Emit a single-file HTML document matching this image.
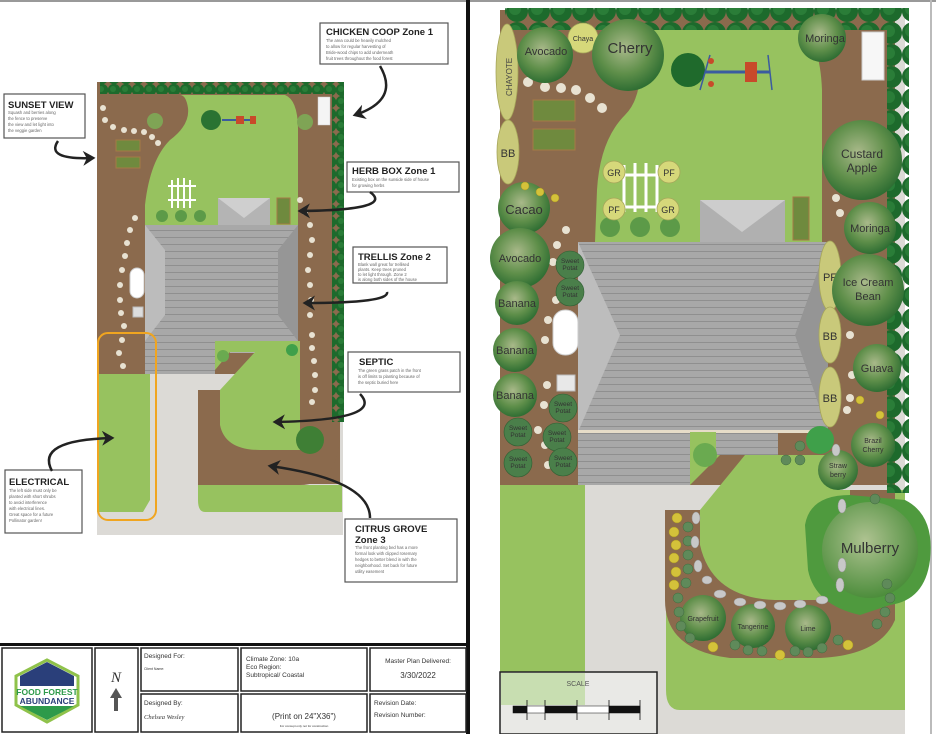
<!DOCTYPE html>
<html><head><meta charset="utf-8"><style>
html,body{margin:0;padding:0;background:#fff;}
svg{display:block;font-family:"Liberation Sans",sans-serif;}
</style></head><body>
<svg width="936" height="734" viewBox="0 0 936 734" xmlns="http://www.w3.org/2000/svg">
<defs>
<pattern id="hedgeH" width="22" height="22" patternUnits="userSpaceOnUse"><circle cx="11" cy="11" r="11" fill="#1d6a2c"/><circle cx="9" cy="9" r="6" fill="#2a7d38"/></pattern>
<pattern id="hedgeS" width="12" height="12" patternUnits="userSpaceOnUse"><circle cx="6" cy="6" r="6.2" fill="#1d6a2c"/><circle cx="5" cy="5" r="3" fill="#2a7d38"/></pattern>
<pattern id="roof" width="10" height="7" patternUnits="userSpaceOnUse"><rect width="10" height="7" fill="#a8a8a8"/><line x1="0" y1="6.5" x2="10" y2="6.5" stroke="#8f8f8f" stroke-width="1"/></pattern>
<radialGradient id="tree" cx="45%" cy="40%" r="60%"><stop offset="0" stop-color="#a9b98a"/><stop offset="0.6" stop-color="#5f8f4a"/><stop offset="1" stop-color="#2f6e33"/></radialGradient>
<radialGradient id="treeL" cx="45%" cy="40%" r="60%"><stop offset="0" stop-color="#b9c79a"/><stop offset="1" stop-color="#4d8c3c"/></radialGradient>
<marker id="ah" markerWidth="6" markerHeight="6" refX="4" refY="3" orient="auto"><path d="M0,0 L5,3 L0,6 L1.5,3Z" fill="#222"/></marker>
</defs>

<!-- frame -->
<rect x="0" y="0" width="936" height="2" fill="#999"/>
<rect x="466" y="0" width="4" height="734" fill="#111"/>
<rect x="930" y="0" width="2" height="734" fill="#bbb"/>

<!-- ============ LEFT PLAN ============ -->
<rect x="97" y="82" width="246" height="453" fill="#dcdad6"/>
<rect x="97" y="82" width="246" height="292" fill="#8b6a4d"/>
<rect x="300" y="374" width="40" height="110" fill="#8b6a4d"/>
<!-- upper lawn -->
<path d="M180,95 L285,95 Q298,100 298,130 L298,225 L145,225 L145,205 Q150,160 170,140 Q190,125 188,108 Q186,95 180,95Z" fill="#97c25f"/>
<!-- house -->
<rect x="145" y="225" width="153" height="116" fill="url(#roof)"/>
<path d="M145,225 L165,250 L165,315 L145,341Z" fill="#bcbcbc"/>
<path d="M298,225 L278,250 L278,315 L298,341Z" fill="#969696"/>
<rect x="218" y="198" width="52" height="27" fill="#b4b4b4"/>
<path d="M218,198 L244,218 L270,198" fill="#cfcfcf"/>
<rect x="145" y="341" width="70" height="33" fill="url(#roof)"/>
<rect x="230" y="341" width="35" height="12" fill="#b0b0b0"/>
<!-- lawns -->
<path d="M215,341 L300,341 L300,450 L220,450 L220,390 L255,352 L230,352 L215,370Z" fill="#97c25f"/>
<path d="M198,390 L220,390 L220,425 Q225,450 260,450 L300,450 L300,374 L340,374 L340,440 Q335,485 300,485 L198,485Z" fill="#8b6a4d"/>
<path d="M198,485 L342,485 L342,512 L205,512 Q198,512 198,500Z" fill="#97c25f"/>
<path d="M97,374 L150,374 L150,500 L143,512 L97,512Z" fill="#97c25f"/>
<rect x="97" y="512" width="245" height="23" fill="#dcdad6"/>
<!-- hedges -->
<rect x="100" y="82" width="242" height="12" fill="url(#hedgeS)"/>
<rect x="332" y="82" width="12" height="340" fill="url(#hedgeS)"/>
<!-- stepping stones -->
<g fill="#e8e2d2">
<circle cx="103" cy="108" r="3"/><circle cx="105" cy="120" r="3"/><circle cx="113" cy="127" r="3"/><circle cx="124" cy="130" r="3"/><circle cx="134" cy="131" r="3"/><circle cx="144" cy="132" r="3"/><circle cx="152" cy="137" r="3"/><circle cx="158" cy="143" r="3"/>
<circle cx="135" cy="218" r="3"/><circle cx="130" cy="230" r="3"/><circle cx="127" cy="243" r="3"/><circle cx="125" cy="256" r="3"/><circle cx="122" cy="270" r="3"/><circle cx="120" cy="285" r="3"/><circle cx="120" cy="300" r="3"/><circle cx="121" cy="313" r="3"/><circle cx="124" cy="326" r="3"/><circle cx="122" cy="340" r="3"/><circle cx="119" cy="353" r="3"/><circle cx="123" cy="366" r="3"/>
<circle cx="300" cy="200" r="3"/><circle cx="305" cy="212" r="3"/><circle cx="310" cy="225" r="3"/><circle cx="312" cy="240" r="3"/><circle cx="310" cy="255" r="3"/><circle cx="308" cy="270" r="3"/><circle cx="310" cy="285" r="3"/><circle cx="311" cy="300" r="3"/><circle cx="310" cy="315" r="3"/><circle cx="312" cy="335" r="3"/><circle cx="312" cy="348" r="3"/><circle cx="314" cy="361" r="3"/><circle cx="315" cy="375" r="3"/><circle cx="315" cy="390" r="3"/><circle cx="312" cy="402" r="3"/>
</g>
<!-- features -->
<circle cx="211" cy="120" r="10" fill="#2a7332"/>
<line x1="222" y1="120" x2="255" y2="120" stroke="#3b5ba0" stroke-width="2"/>
<rect x="236" y="116" width="8" height="8" fill="#c84a2a"/><rect x="250" y="116" width="6" height="8" fill="#c84a2a"/>
<circle cx="155" cy="121" r="8" fill="#7fa455"/><circle cx="305" cy="122" r="8" fill="#7fa455"/>
<rect x="318" y="97" width="12" height="28" fill="#f4f4f4" stroke="#ccc" stroke-width="0.5"/>
<rect x="116" y="140" width="24" height="11" fill="#6f8a3e" stroke="#a57a45"/>
<rect x="116" y="157" width="24" height="11" fill="#6f8a3e" stroke="#a57a45"/>
<rect x="277" y="198" width="13" height="26" fill="#6f8a3e" stroke="#a57a45"/>
<g stroke="#fff" stroke-width="2"><line x1="172" y1="180" x2="172" y2="208"/><line x1="178" y1="178" x2="178" y2="208"/><line x1="184" y1="178" x2="184" y2="208"/><line x1="190" y1="180" x2="190" y2="208"/><line x1="168" y1="186" x2="196" y2="186"/><line x1="168" y1="200" x2="196" y2="200"/></g>
<circle cx="162" cy="216" r="6" fill="#5c9a48"/><circle cx="181" cy="216" r="6" fill="#5c9a48"/><circle cx="200" cy="216" r="6" fill="#5c9a48"/>
<rect x="130" y="268" width="14" height="30" rx="7" fill="#fff" stroke="#ccc"/>
<rect x="133" y="307" width="10" height="10" fill="#ddd" stroke="#bbb"/>
<circle cx="223" cy="356" r="6" fill="#6aaa50"/><circle cx="292" cy="350" r="6" fill="#3fa04a"/>
<circle cx="310" cy="440" r="14" fill="#3f7f35"/>
<rect x="98" y="333" width="58" height="187" rx="10" fill="none" stroke="#f0a520" stroke-width="2"/>

<!-- callouts -->
<g stroke="#555" stroke-width="1.2" fill="#fff">
<rect x="320" y="23" width="128" height="41"/>
<rect x="4" y="94" width="81" height="44"/>
<rect x="347" y="162" width="112" height="30"/>
<rect x="353" y="247" width="94" height="36"/>
<rect x="348" y="352" width="112" height="40"/>
<rect x="5" y="470" width="77" height="63"/>
<rect x="345" y="519" width="112" height="63"/>
</g>
<g fill="#222" font-weight="bold" font-size="9.5">
<text x="326" y="35">CHICKEN COOP Zone 1</text>
<text x="8" y="108">SUNSET VIEW</text>
<text x="352" y="174">HERB BOX Zone 1</text>
<text x="358" y="260">TRELLIS Zone 2</text>
<text x="359" y="365">SEPTIC</text>
<text x="9" y="485">ELECTRICAL</text>
<text x="355" y="532">CITRUS GROVE</text>
<text x="355" y="543">Zone 3</text>
</g>
<g fill="#666" font-size="4.2">
<text x="326" y="42">The area could be heavily mulched</text><text x="326" y="48">to allow for regular harvesting of</text><text x="326" y="54">Bride-wood chips to add underneath</text><text x="326" y="60">fruit trees throughout the food forest</text>
<text x="8" y="114">Squash and berries along</text><text x="8" y="120">the fence to preserve</text><text x="8" y="126">the view and let light into</text><text x="8" y="132">the veggie garden</text>
<text x="352" y="181">Existing box on the sunside side of house</text><text x="352" y="187">for growing herbs</text>
<text x="358" y="266">Blank wall great for trellised</text><text x="358" y="271">plants. Keep trees pruned</text><text x="358" y="276">to let light through. Zone 2</text><text x="358" y="281">is along both sides of the house</text>
<text x="358" y="372">The green grass patch in the front</text><text x="358" y="378">is off limits to planting because of</text><text x="358" y="384">the septic buried here</text>
<text x="9" y="492">The left side must only be</text><text x="9" y="498">planted with short shrubs</text><text x="9" y="504">to avoid interference</text><text x="9" y="510">with electrical lines.</text><text x="9" y="516">Great space for a future</text><text x="9" y="522">Pollinator garden!</text>
<text x="355" y="549">The front planting bed has a more</text><text x="355" y="555">formal look with clipped rosemary</text><text x="355" y="561">hedges to better blend in with the</text><text x="355" y="567">neighborhood. Set back for future</text><text x="355" y="573">utility easement</text>
</g>
<!-- arrows -->
<g fill="none" stroke="#222" stroke-width="2.5" marker-end="url(#ah)">
<path d="M380,66 Q400,100 355,115"/>
<path d="M58,141 Q45,160 93,158"/>
<path d="M370,192 Q395,210 300,211"/>
<path d="M387,292 Q390,303 305,303"/>
<path d="M360,394 Q385,420 275,422"/>
<path d="M52,471 Q35,440 112,438"/>
<path d="M370,518 Q370,480 270,466"/>
</g>

<!-- title block -->
<rect x="0" y="643" width="468" height="3" fill="#111"/>
<g stroke="#222" stroke-width="1.5" fill="none">
<rect x="2" y="648" width="90" height="84"/>
<rect x="95" y="648" width="43" height="84"/>
<rect x="141" y="648" width="97" height="43"/>
<rect x="141" y="694" width="97" height="38"/>
<rect x="241" y="648" width="126" height="43"/>
<rect x="241" y="694" width="126" height="38"/>
<rect x="370" y="648" width="96" height="43"/>
<rect x="370" y="694" width="96" height="38"/>
</g>
<path d="M47,660 L78,676 L78,705 L47,722 L16,705 L16,676Z" fill="#fff" stroke="#8fc24a" stroke-width="3"/>
<path d="M20,676 L47,662 L74,676 L74,686 L20,686Z" fill="#2a3f7a"/>
<path d="M20,706 L74,706 L47,720Z" fill="#2e9a4a"/>
<text x="47" y="695" text-anchor="middle" font-size="8.5" font-weight="bold" fill="#2e9a4a">FOOD FOREST</text>
<text x="47" y="704" text-anchor="middle" font-size="8.5" font-weight="bold" fill="#2a3f7a">ABUNDANCE</text>
<text x="116" y="682" text-anchor="middle" font-size="15" font-style="italic" font-family="Liberation Serif,serif" fill="#333">N</text>
<path d="M116,688 L110,698 L114,698 L114,711 L118,711 L118,698 L122,698Z" fill="#555"/>
<g fill="#333" font-size="6.5">
<text x="144" y="658">Designed For:</text>
<text x="144" y="670" font-size="3.5">Client Name:</text>
<text x="144" y="705">Designed By:</text>
<text x="144" y="719" font-style="italic" font-family="Liberation Serif,serif">Chelsea Wesley</text>
<text x="246" y="661">Climate Zone: 10a</text>
<text x="246" y="669">Eco Region:</text>
<text x="246" y="677">Subtropical/ Coastal</text>
<text x="304" y="719" text-anchor="middle" font-size="8">(Print on 24"X36")</text>
<text x="304" y="727" text-anchor="middle" font-size="3">For concept only not for construction</text>
<text x="418" y="663" text-anchor="middle">Master Plan Delivered:</text>
<text x="418" y="678" text-anchor="middle" font-size="8">3/30/2022</text>
<text x="374" y="705">Revision Date:</text>
<text x="374" y="717">Revision Number:</text>
</g>

<!-- ============ RIGHT PLAN ============ -->
<rect x="500" y="10" width="405" height="724" fill="#dcdad6"/>
<rect x="500" y="10" width="395" height="475" fill="#8b6a4d"/>
<!-- upper lawn -->
<path d="M640,30 L800,30 Q820,40 822,90 L822,242 L595,242 L597,190 Q600,140 625,115 Q640,100 640,70 Q640,45 632,30Z" fill="#97c25f"/>
<!-- house -->
<rect x="578" y="242" width="250" height="190" fill="url(#roof)"/>
<path d="M578,242 L620,335 L578,432Z" fill="#bdbdbd"/>
<path d="M828,242 L795,335 L828,432Z" fill="#959595"/>
<rect x="700" y="200" width="85" height="42" fill="#b0b0b0"/>
<path d="M700,200 L742,232 L785,200Z" fill="#cdcdcd"/>
<rect x="578" y="432" width="112" height="53" fill="url(#roof)"/>
<rect x="716" y="432" width="62" height="23" fill="url(#roof)"/>
<rect x="578" y="430" width="250" height="3" fill="#e6dcc8"/>
<!-- lower lawns -->
<path d="M500,485 L585,485 L585,734 L500,734Z" fill="#97c25f"/>
<path d="M690,432 L716,432 L716,455 L840,455 L840,490 L905,490 L905,710 L680,710 Q666,710 666,690 L666,510 L700,510 L745,455 L720,455 L690,485Z" fill="#97c25f"/>
<!-- U bed -->
<path d="M665,510 L700,510 L700,545 Q712,598 775,600 L850,600 L850,490 L895,490 L895,620 Q880,655 820,658 L730,658 Q665,650 665,600Z" fill="#8b6a4d"/>
<!-- hedges -->
<rect x="505" y="8" width="400" height="22" fill="url(#hedgeH)"/>
<rect x="887" y="8" width="22" height="485" fill="url(#hedgeH)"/>
<!-- stones -->
<g fill="#e8e2d2">
<circle cx="528" cy="82" r="5"/><circle cx="545" cy="87" r="5"/><circle cx="561" cy="88" r="5"/><circle cx="576" cy="90" r="5"/><circle cx="590" cy="98" r="5"/><circle cx="602" cy="108" r="5"/>
<circle cx="566" cy="230" r="4"/><circle cx="557" cy="245" r="4"/><circle cx="553" cy="262" r="4"/><circle cx="556" cy="300" r="4"/><circle cx="548" cy="320" r="4"/><circle cx="545" cy="340" r="4"/><circle cx="547" cy="385" r="4"/><circle cx="544" cy="405" r="4"/><circle cx="538" cy="430" r="4"/><circle cx="545" cy="445" r="4"/><circle cx="548" cy="465" r="4"/>
<circle cx="836" cy="198" r="4"/><circle cx="840" cy="213" r="4"/><circle cx="846" cy="310" r="4"/><circle cx="850" cy="335" r="4"/><circle cx="852" cy="375" r="4"/><circle cx="850" cy="398" r="4"/><circle cx="847" cy="410" r="4"/>
</g>
<!-- veggie beds etc -->
<rect x="533" y="100" width="42" height="21" fill="#6f8a3e" stroke="#a57a45"/>
<rect x="533" y="129" width="42" height="21" fill="#6f8a3e" stroke="#a57a45"/>
<rect x="793" y="197" width="16" height="43" fill="#6f8a3e" stroke="#a57a45"/>
<rect x="862" y="32" width="22" height="48" fill="#f7f7f7" stroke="#ccc"/>
<circle cx="688" cy="70" r="17" fill="#1f6a2c"/>
<line x1="705" y1="72" x2="770" y2="72" stroke="#3b5ba0" stroke-width="3"/>
<line x1="710" y1="55" x2="700" y2="90" stroke="#3b5ba0" stroke-width="1.5"/><line x1="768" y1="55" x2="772" y2="90" stroke="#3b5ba0" stroke-width="1.5"/>
<circle cx="711" cy="61" r="3" fill="#c84a2a"/><circle cx="711" cy="84" r="3" fill="#c84a2a"/>
<rect x="745" y="62" width="12" height="20" fill="#c84a2a"/>
<g stroke="#fff" stroke-width="3"><line x1="624" y1="165" x2="624" y2="212"/><line x1="635" y1="163" x2="635" y2="212"/><line x1="646" y1="163" x2="646" y2="212"/><line x1="657" y1="165" x2="657" y2="212"/><line x1="620" y1="175" x2="661" y2="175"/><line x1="620" y1="207" x2="661" y2="207"/></g>
<circle cx="610" cy="227" r="10" fill="#5c9a48"/><circle cx="640" cy="227" r="10" fill="#5c9a48"/><circle cx="670" cy="227" r="10" fill="#5c9a48"/>
<rect x="553" y="310" width="25" height="45" rx="12" fill="#fff" stroke="#ccc"/>
<rect x="557" y="375" width="18" height="16" fill="#e8e8e8" stroke="#bbb"/>
<circle cx="705" cy="455" r="12" fill="#6aaa50"/>
<circle cx="820" cy="440" r="14" fill="#3fa04a"/>

<!-- ellipses -->
<g fill="#c9c97a" stroke="#a6a65a" stroke-width="0.8">
<ellipse cx="507" cy="72" rx="11" ry="48"/>
<ellipse cx="508" cy="152" rx="11" ry="32"/>
<ellipse cx="830" cy="276" rx="11" ry="35"/>
<ellipse cx="830" cy="335" rx="11" ry="28"/>
<ellipse cx="830" cy="397" rx="11" ry="30"/>
</g>
<text x="512" y="96" font-size="8" fill="#444" transform="rotate(-90 512 96)">CHAYOTE</text>
<g fill="#333" font-size="11" text-anchor="middle">
<text x="508" y="157">BB</text><text x="830" y="281">PF</text><text x="830" y="340">BB</text><text x="830" y="402">BB</text>
</g>
<!-- small yellow circles around trellis -->
<g fill="#d6d87a" stroke="#a6a65a" stroke-width="0.8">
<circle cx="614" cy="172" r="11"/><circle cx="669" cy="172" r="11"/><circle cx="614" cy="209" r="11"/><circle cx="668" cy="209" r="11"/>
<circle cx="583" cy="38" r="15"/>
</g>
<g fill="#333" font-size="9" text-anchor="middle">
<text x="614" y="176">GR</text><text x="669" y="176">PF</text><text x="614" y="213">PF</text><text x="668" y="213">GR</text>
<text x="583" y="41" font-size="7">Chaya</text>
</g>
<!-- trees -->
<g fill="url(#tree)">
<circle cx="545" cy="55" r="28"/><circle cx="628" cy="55" r="36"/><circle cx="822" cy="38" r="24"/>
<circle cx="862" cy="160" r="40"/><circle cx="870" cy="228" r="26"/><circle cx="868" cy="290" r="36"/><circle cx="877" cy="368" r="24"/>
<circle cx="524" cy="208" r="26"/><circle cx="520" cy="258" r="30"/><circle cx="517" cy="303" r="22"/><circle cx="515" cy="350" r="22"/><circle cx="515" cy="395" r="22"/>
<circle cx="873" cy="445" r="22"/><circle cx="838" cy="470" r="20"/>
<circle cx="703" cy="618" r="23"/><circle cx="753" cy="626" r="22"/><circle cx="808" cy="628" r="23"/>
</g>
<path d="M805,525 Q810,495 850,495 L905,500 Q935,515 930,560 Q925,600 890,605 L860,615 Q815,605 808,570Z" fill="#4f9a3e"/>
<circle cx="870" cy="550" r="48" fill="url(#treeL)" opacity="0.9"/>
<g fill="#4a7f4a" stroke="#2f5f33" stroke-width="0.6">
<circle cx="570" cy="265" r="14"/><circle cx="570" cy="292" r="14"/><circle cx="563" cy="408" r="14"/><circle cx="518" cy="432" r="14"/><circle cx="557" cy="437" r="14"/><circle cx="518" cy="463" r="14"/><circle cx="563" cy="462" r="14"/>
</g>
<g fill="#333" text-anchor="middle" font-size="11">
<text x="546" y="55">Avocado</text><text x="630" y="53" font-size="15">Cherry</text><text x="825" y="42">Moringa</text>
<text x="862" y="158" font-size="12">Custard</text><text x="862" y="172" font-size="12">Apple</text>
<text x="870" y="232">Moringa</text><text x="868" y="286">Ice Cream</text><text x="868" y="300">Bean</text><text x="877" y="372">Guava</text>
<text x="524" y="214" font-size="13">Cacao</text><text x="520" y="262">Avocado</text><text x="517" y="307">Banana</text><text x="515" y="354">Banana</text><text x="515" y="399">Banana</text>
<text x="873" y="443" font-size="7">Brazil</text><text x="873" y="452" font-size="7">Cherry</text>
<text x="838" y="468" font-size="7">Straw</text><text x="838" y="477" font-size="7">berry</text>
<text x="870" y="553" font-size="15">Mulberry</text>
<text x="703" y="621" font-size="7">Grapefruit</text><text x="753" y="629" font-size="7">Tangerine</text><text x="808" y="631" font-size="7">Lime</text>
</g>
<g fill="#333" text-anchor="middle" font-size="6.5">
<text x="570" y="263">Sweet</text><text x="570" y="270">Potat</text>
<text x="570" y="290">Sweet</text><text x="570" y="297">Potat</text>
<text x="563" y="406">Sweet</text><text x="563" y="413">Potat</text>
<text x="518" y="430">Sweet</text><text x="518" y="437">Potat</text>
<text x="557" y="435">Sweet</text><text x="557" y="442">Potat</text>
<text x="518" y="461">Sweet</text><text x="518" y="468">Potat</text>
<text x="563" y="460">Sweet</text><text x="563" y="467">Potat</text>
</g>
<!-- small yellow & R/Y plants in U bed -->
<g fill="#d4c23a" stroke="#a89520" stroke-width="0.5">
<circle cx="677" cy="518" r="5"/><circle cx="674" cy="532" r="5"/><circle cx="676" cy="545" r="5"/><circle cx="674" cy="558" r="5"/><circle cx="676" cy="572" r="5"/><circle cx="674" cy="585" r="5"/>
<circle cx="713" cy="647" r="5"/><circle cx="780" cy="655" r="5"/><circle cx="848" cy="645" r="5"/>
<circle cx="525" cy="186" r="4"/><circle cx="540" cy="192" r="4"/><circle cx="555" cy="198" r="4"/><circle cx="860" cy="400" r="4"/><circle cx="880" cy="415" r="4"/>
</g>
<g fill="#5f8a5a" stroke="#3d6a3d" stroke-width="0.5">
<circle cx="688" cy="527" r="5"/><circle cx="688" cy="541" r="5"/><circle cx="688" cy="555" r="5"/><circle cx="688" cy="569" r="5"/><circle cx="686" cy="583" r="5"/>
<circle cx="678" cy="598" r="5"/><circle cx="679" cy="612" r="5"/><circle cx="681" cy="626" r="5"/><circle cx="690" cy="638" r="5"/>
<circle cx="735" cy="645" r="5"/><circle cx="748" cy="650" r="5"/><circle cx="762" cy="651" r="5"/><circle cx="795" cy="651" r="5"/><circle cx="808" cy="652" r="5"/><circle cx="822" cy="648" r="5"/><circle cx="838" cy="640" r="5"/>
<circle cx="887" cy="584" r="5"/><circle cx="890" cy="598" r="5"/><circle cx="885" cy="612" r="5"/><circle cx="877" cy="624" r="5"/>
<circle cx="786" cy="460" r="5"/><circle cx="800" cy="460" r="5"/><circle cx="800" cy="446" r="5"/><circle cx="875" cy="499" r="5"/>
</g>
<g fill="#c8c8c8" stroke="#999" stroke-width="0.5">
<ellipse cx="696" cy="518" rx="4" ry="6"/><ellipse cx="695" cy="542" rx="4" ry="6"/><ellipse cx="698" cy="566" rx="4" ry="6"/><ellipse cx="707" cy="580" rx="5" ry="4"/><ellipse cx="720" cy="594" rx="6" ry="4"/><ellipse cx="740" cy="602" rx="6" ry="4"/><ellipse cx="760" cy="605" rx="6" ry="4"/><ellipse cx="780" cy="606" rx="6" ry="4"/><ellipse cx="800" cy="604" rx="6" ry="4"/><ellipse cx="822" cy="600" rx="6" ry="4"/>
<ellipse cx="842" cy="506" rx="4" ry="7"/><ellipse cx="842" cy="565" rx="4" ry="7"/><ellipse cx="840" cy="585" rx="4" ry="7"/><ellipse cx="836" cy="450" rx="4" ry="6"/>
</g>
<!-- scale -->
<rect x="500" y="672" width="157" height="62" fill="#e9e9e6" stroke="#222" stroke-width="1.5"/>
<path d="M501,673 L585,673 L585,705 L501,705Z" fill="#b9d89a" opacity="0.7"/>
<text x="578" y="686" text-anchor="middle" font-size="7" fill="#555">SCALE</text>
<rect x="513" y="706" width="127" height="7" fill="#fff" stroke="#111" stroke-width="0.5"/>
<rect x="513" y="706" width="14" height="7" fill="#111"/>
<rect x="545" y="706" width="32" height="7" fill="#111"/>
<rect x="609" y="706" width="31" height="7" fill="#111"/>
<g stroke="#111" stroke-width="0.8"><line x1="527" y1="700" x2="527" y2="720"/><line x1="545" y1="700" x2="545" y2="720"/><line x1="577" y1="700" x2="577" y2="720"/><line x1="609" y1="700" x2="609" y2="720"/><line x1="640" y1="700" x2="640" y2="720"/></g>
</svg>
</body></html>
